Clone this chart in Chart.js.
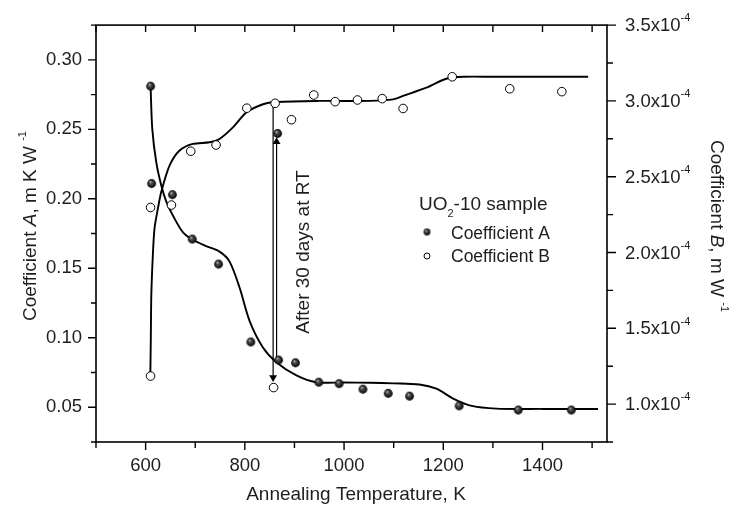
<!DOCTYPE html>
<html>
<head>
<meta charset="utf-8">
<script src="https://cdn.jsdelivr.net/npm/chart.js@4.4.0/dist/chart.umd.min.js"></script>
<style>
    html, body { margin: 0; padding: 0; background: #fff; }
    #wrap { width: 731px; height: 508px; position: relative; }
</style>
</head>
<body>
<div id="wrap"><canvas id="chart"></canvas></div>
<script>
// Coefficient A (left axis, m K W-1)
const tempA = [610, 612, 654, 694, 747, 812, 868, 902, 949, 990, 1038, 1089, 1132, 1232, 1351, 1458];
const coefA = [0.281, 0.211, 0.203, 0.171, 0.153, 0.097, 0.084, 0.082, 0.068, 0.067, 0.063, 0.060, 0.058, 0.051, 0.048, 0.048];

// Coefficient B (right axis, m W-1)
const tempB = [610, 610, 652, 691, 742, 804, 861, 894, 939, 982, 1027, 1077, 1119, 1218, 1334, 1439];
const coefB = [1.185e-4, 2.297e-4, 2.313e-4, 2.668e-4, 2.709e-4, 2.952e-4, 2.984e-4, 2.876e-4, 3.039e-4, 2.995e-4, 3.006e-4, 3.015e-4, 2.950e-4, 3.159e-4, 3.080e-4, 3.061e-4];

// after 30 days at RT
const agedTemp = [866, 858];
const agedA = [0.247];
const agedB = [1.109e-4];

// fitted curves
const fitTempA = [610, 613.5, 621.6, 632, 641.7, 655, 675, 695, 722, 749, 769, 789.5, 809.7, 836.5, 863.5, 904, 944, 1000, 1052, 1100, 1152, 1186, 1220, 1253, 1307, 1400, 1512];
const fitA = [0.281, 0.250, 0.226, 0.209, 0.198, 0.188, 0.176, 0.1705, 0.166, 0.162, 0.155, 0.136, 0.112, 0.093, 0.0824, 0.0729, 0.068, 0.0678, 0.0676, 0.0672, 0.0664, 0.0634, 0.0562, 0.0514, 0.049, 0.0488, 0.0488];
const fitTempB = [609.5, 610.5, 611.5, 614.7, 618, 624.8, 631.6, 648.4, 668.5, 695, 729, 749, 776, 803, 836.5, 863.5, 950, 1052, 1099, 1119, 1166, 1206, 1240, 1300, 1400, 1492];
const fitB = [1.19e-4, 1.44e-4, 1.72e-4, 1.99e-4, 2.16e-4, 2.29e-4, 2.40e-4, 2.575e-4, 2.673e-4, 2.716e-4, 2.727e-4, 2.749e-4, 2.825e-4, 2.923e-4, 2.978e-4, 2.993e-4, 3.0e-4, 3.0e-4, 3.01e-4, 3.033e-4, 3.087e-4, 3.146e-4, 3.159e-4, 3.159e-4, 3.159e-4, 3.159e-4];

// arrows
const arrowTemp = [857, 864];
const arrowB = [2.984e-4, 1.175e-4];
const arrowA = [0.085, 0.241];

// ticks
const xMajor = [600, 800, 1000, 1200, 1400];
const xMinor = [500, 700, 900, 1100, 1300, 1500];
const aMajor = [0.05, 0.10, 0.15, 0.20, 0.25, 0.30];
const aMinor = [0.025, 0.075, 0.125, 0.175, 0.225, 0.275, 0.325];
const bMajor = [1.0e-4, 1.5e-4, 2.0e-4, 2.5e-4, 3.0e-4, 3.5e-4];
const bMinor = [0.75e-4, 1.25e-4, 1.75e-4, 2.25e-4, 2.75e-4, 3.25e-4];

const FONT = '"Liberation Sans", Arial, Helvetica, sans-serif';
const TXT = '#1e1e1e';

function makeBall(r) {
    const size = Math.ceil(r * 2) + 2;
    const c = document.createElement('canvas');
    c.width = c.height = size;
    const g = c.getContext('2d');
    const m = size / 2;
    const grad = g.createRadialGradient(m - r * 0.3, m - r * 0.4, 0, m, m, r);
    grad.addColorStop(0, '#e0e0e0');
    grad.addColorStop(0.3, '#555');
    grad.addColorStop(1, '#000');
    g.fillStyle = grad;
    g.beginPath();
    g.arc(m, m, r, 0, Math.PI * 2);
    g.fill();
    return c;
}
const ball = makeBall(4.4);
const ballSmall = makeBall(3.4);

function fontFor(kind, size) {
    if (kind === 'i') return 'italic ' + size + 'px ' + FONT;
    if (kind === 'sup' || kind === 'sub') return Math.round(size * 0.6) + 'px ' + FONT;
    return size + 'px ' + FONT;
}

function drawRich(ctx, parts, x, y, size, align) {
    let w = 0;
    parts.forEach(p => { ctx.font = fontFor(p[1], size); w += ctx.measureText(p[0]).width; });
    let cx = align === 'center' ? x - w / 2 : x;
    ctx.textAlign = 'left';
    ctx.textBaseline = 'alphabetic';
    parts.forEach(p => {
        ctx.font = fontFor(p[1], size);
        const dy = p[1] === 'sup' ? -size * 0.52 : (p[1] === 'sub' ? size * 0.36 : 0);
        ctx.fillText(p[0], cx, y + dy);
        cx += ctx.measureText(p[0]).width;
    });
}

const framePlugin = {
    id: 'frame',
    afterDraw(chart) {
        const { ctx, chartArea: a, scales } = chart;
        ctx.save();
        ctx.strokeStyle = '#000';
        ctx.lineWidth = 1.6;
        ctx.strokeRect(a.left, a.top, a.right - a.left, a.bottom - a.top);

        ctx.lineWidth = 1.4;
        ctx.beginPath();
        const seg = (x1, y1, x2, y2) => { ctx.moveTo(x1, y1); ctx.lineTo(x2, y2); };
        xMajor.forEach(v => {
            const p = scales.x.getPixelForValue(v);
            seg(p, a.bottom, p, a.bottom + 8);
            seg(p, a.top, p, a.top + 7);
        });
        xMinor.forEach(v => {
            const p = scales.x.getPixelForValue(v);
            seg(p, a.bottom, p, a.bottom + 6);
            seg(p, a.top, p, a.top + 7);
        });
        aMajor.forEach(v => { const p = scales.y.getPixelForValue(v); seg(a.left, p, a.left - 8, p); });
        aMinor.forEach(v => { const p = scales.y.getPixelForValue(v); seg(a.left, p, a.left - 5, p); });
        bMajor.forEach(v => { const p = scales.yB.getPixelForValue(v); seg(a.right, p, a.right + 9, p); });
        bMinor.forEach(v => { const p = scales.yB.getPixelForValue(v); seg(a.right, p, a.right + 6, p); });
        ctx.stroke();

        ctx.fillStyle = TXT;
        // right tick labels
        bMajor.forEach(v => {
            const p = scales.yB.getPixelForValue(v);
            drawRich(ctx, [[(v * 1e4).toFixed(1) + 'x10', ''], ['-4', 'sup']], a.right + 18, p + 6, 18.5, 'left');
        });

        // axis titles
        drawRich(ctx, [['Annealing Temperature, K', '']], 356, 500, 19, 'center');

        ctx.save();
        ctx.translate(29, 226);
        ctx.rotate(-Math.PI / 2);
        drawRich(ctx, [['Coefficient ', ''], ['A', 'i'], [', m K W ', ''], ['-1', 'sup']], 0, 6.8, 19, 'center');
        ctx.restore();

        ctx.save();
        ctx.translate(718, 226);
        ctx.rotate(Math.PI / 2);
        drawRich(ctx, [['Coefficient ', ''], ['B', 'i'], [', m W ', ''], ['-1', 'sup']], 0, 6.8, 19, 'center');
        ctx.restore();

        // annotation
        ctx.save();
        ctx.translate(302, 252);
        ctx.rotate(-Math.PI / 2);
        drawRich(ctx, [['After 30 days at RT', '']], 0, 6.8, 19, 'center');
        ctx.restore();

        // legend
        drawRich(ctx, [['UO', ''], ['2', 'sub'], ['-10 sample', '']], 419, 210, 19, 'left');
        drawRich(ctx, [['Coefficient A', '']], 451, 238.5, 17.5, 'left');
        drawRich(ctx, [['Coefficient B', '']], 451, 262, 17.5, 'left');
        ctx.drawImage(ballSmall, 427 - ballSmall.width / 2, 232 - ballSmall.height / 2);
        ctx.beginPath();
        ctx.arc(427, 256, 3, 0, Math.PI * 2);
        ctx.fillStyle = '#fff';
        ctx.fill();
        ctx.lineWidth = 1;
        ctx.strokeStyle = '#000';
        ctx.stroke();
        ctx.restore();
    }
};

const pointsA = tempA.map((t, i) => ({ x: t, y: coefA[i] }));
const pointsB = tempB.map((t, i) => ({ x: t, y: coefB[i] }));
const curveA = fitTempA.map((t, i) => ({ x: t, y: fitA[i] }));
const curveB = fitTempB.map((t, i) => ({ x: t, y: fitB[i] }));

new Chart(document.getElementById('chart'), {
    type: 'scatter',
    data: {
        datasets: [
            {
                label: 'Coefficient A',
                data: pointsA.concat([{ x: agedTemp[0], y: agedA[0] }]),
                yAxisID: 'y',
                pointStyle: ball,
                pointRadius: 4.4,
                order: 0,
            },
            {
                label: 'Coefficient B',
                data: pointsB.concat([{ x: agedTemp[1], y: agedB[0] }]),
                yAxisID: 'yB',
                pointStyle: 'circle',
                pointRadius: 4.3,
                borderWidth: 1,
                borderColor: '#000',
                backgroundColor: '#fff',
                order: 1,
            },
            {
                data: curveA,
                yAxisID: 'y',
                showLine: true,
                pointRadius: 0,
                borderColor: '#000',
                borderWidth: 1.9,
                tension: 0.3,
                order: 3,
            },
            {
                data: curveB,
                yAxisID: 'yB',
                showLine: true,
                pointRadius: 0,
                borderColor: '#000',
                borderWidth: 1.9,
                tension: 0.3,
                order: 3,
            },
            {
                data: arrowB.map(v => ({ x: arrowTemp[0], y: v })),
                yAxisID: 'yB',
                showLine: true,
                borderColor: '#000',
                borderWidth: 1.2,
                pointStyle: 'triangle',
                pointRadius: [0, 4.5],
                pointRotation: [0, 180],
                pointBackgroundColor: '#000',
                pointBorderWidth: 0,
                order: 2,
            },
            {
                data: arrowA.map(v => ({ x: arrowTemp[1], y: v })),
                yAxisID: 'y',
                showLine: true,
                borderColor: '#000',
                borderWidth: 1.2,
                pointStyle: 'triangle',
                pointRadius: [0, 4.5],
                pointRotation: [0, 0],
                pointBackgroundColor: '#000',
                pointBorderWidth: 0,
                order: 2,
            },
        ],
    },
    options: {
        responsive: true,
        maintainAspectRatio: false,
        animation: false,
        layout: { padding: { top: 22, left: 0, right: 0, bottom: 0 } },
        plugins: { legend: { display: false }, tooltip: { enabled: false } },
        scales: {
            x: {
                type: 'linear',
                position: 'bottom',
                min: 500,
                max: 1530,
                afterBuildTicks: s => { s.ticks = xMajor.map(v => ({ value: v })); },
                afterFit: s => { s.height = 66; },
                grid: { display: false, drawTicks: false },
                border: { display: false },
                ticks: {
                    callback: v => String(v),
                    font: { family: FONT, size: 18.5 },
                    color: TXT,
                    padding: 13,
                    maxRotation: 0,
                    autoSkip: false,
                },
            },
            y: {
                position: 'left',
                min: 0.025,
                max: 0.325,
                afterBuildTicks: s => { s.ticks = aMajor.map(v => ({ value: v })); },
                afterFit: s => { s.width = 96; },
                grid: { display: false, drawTicks: false },
                border: { display: false },
                ticks: {
                    callback: v => v.toFixed(2),
                    font: { family: FONT, size: 18.5 },
                    color: TXT,
                    padding: 14,
                },
            },
            yB: {
                position: 'right',
                min: 0.75e-4,
                max: 3.5e-4,
                afterFit: s => { s.width = 124; },
                grid: { display: false, drawTicks: false },
                border: { display: false },
                ticks: { display: false },
            },
        },
    },
    plugins: [framePlugin],
});
</script>
</body>
</html>
